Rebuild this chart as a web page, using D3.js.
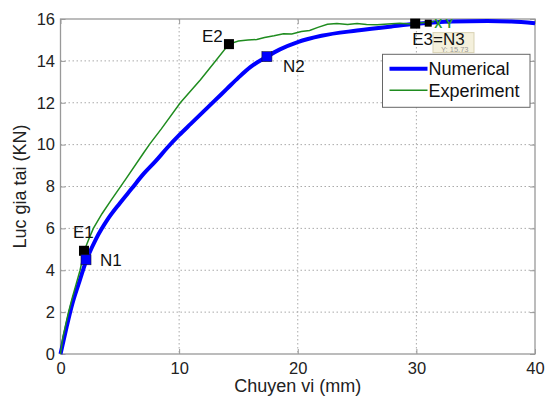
<!DOCTYPE html>
<html>
<head>
<meta charset="utf-8">
<script src="https://cdnjs.cloudflare.com/ajax/libs/d3/7.8.5/d3.min.js"></script>
<style>
	body { margin: 0; background: #fff; }
	svg { display: block; font-family: "Liberation Sans", Arial, sans-serif; }
	.grid line { stroke: #aaa; stroke-dasharray: 1.5,2.5; }
</style>
</head>
<body>
<svg id="chart" width="548" height="396"></svg>
<script>
// numerical curve (x: mm, y: kN)
var numX = [0, 0.5, 1.0, 1.5, 2.2, 3.0, 4.0, 5.0, 6.0, 7.0, 8.0, 9.0, 10.0, 11.0, 12.0, 13.0, 14.0, 15.0, 16.0, 17.4, 18.5, 20.0, 22.0, 25.0, 28.0, 30.0, 33.0, 36.0, 38.0, 40.0];
var numY = [0, 1.25, 2.4, 3.3, 4.5, 5.5, 6.45, 7.2, 7.9, 8.6, 9.2, 9.85, 10.45, 11.0, 11.55, 12.1, 12.65, 13.2, 13.7, 14.2, 14.55, 14.9, 15.2, 15.45, 15.65, 15.77, 15.88, 15.9, 15.88, 15.8];

// experiment curve
var expX = [0, 0.2, 0.4, 0.66, 1.0, 1.3, 1.65, 2.0, 2.4, 2.77, 3.5, 4.3, 5.5, 7.0, 7.55, 8.5, 10.1, 11.8, 13.0, 14.2, 15.0, 15.8, 16.55, 17.2, 18.0, 18.8, 19.5, 20.3, 21.0, 21.7, 22.5, 23.3, 24.2, 25.0, 25.8, 26.7, 27.6, 28.6, 29.5, 30.5, 31.5];
var expY = [0, 0.8, 1.3, 1.96, 2.7, 3.3, 4.0, 4.93, 5.5, 6.0, 6.7, 7.37, 8.35, 9.6, 10.05, 10.75, 12.0, 13.1, 13.95, 14.8, 14.95, 15.0, 15.02, 15.12, 15.2, 15.3, 15.28, 15.4, 15.45, 15.6, 15.75, 15.78, 15.74, 15.78, 15.74, 15.72, 15.76, 15.8, 15.76, 15.82, 15.88];

var eLabels = ["E1", "E2", "E3"];
var eX = [1.98, 14.2, 29.9];
var eY = [4.93, 14.8, 15.78];
var nLabels = ["N1", "N2", "N3"];
var nX = [2.15, 17.4, 29.9];
var nY = [4.5, 14.2, 15.78];

var xTicks = [0, 10, 20, 30, 40];
var yTicks = [0, 2, 4, 6, 8, 10, 12, 14, 16];

var margin = {top: 19, right: 13, bottom: 42, left: 60.5};
var svg = d3.select("#chart");
var width = 548 - margin.left - margin.right,
	height = 396 - margin.top - margin.bottom;

var g = svg.append("g").attr("transform", "translate(" + margin.left + "," + margin.top + ")");

var x = d3.scaleLinear().domain([0, 40]).range([0, width]);
var y = d3.scaleLinear().domain([0, 16]).range([height, 0]);

// grid
g.append("g").attr("class", "grid")
	.selectAll("line").data(xTicks.slice(1, -1)).enter().append("line")
	.attr("x1", x).attr("x2", x).attr("y1", 0).attr("y2", height);
g.append("g").attr("class", "grid")
	.selectAll("line").data(yTicks.slice(1, -1)).enter().append("line")
	.attr("x1", 0).attr("x2", width).attr("y1", y).attr("y2", y);

// frame
g.append("rect").attr("width", width).attr("height", height)
	.attr("fill", "none").attr("stroke", "#999").attr("stroke-width", 1.3);

g.append("g").attr("transform", "translate(0," + height + ")")
	.call(d3.axisBottom(x).tickValues(xTicks).tickSize(-5).tickPadding(8));
g.append("g")
	.call(d3.axisLeft(y).tickValues(yTicks).tickSize(-5).tickPadding(5.5));
g.append("g").attr("transform", "translate(" + width + ",0)")
	.call(d3.axisRight(y).tickValues(yTicks).tickSize(-5).tickFormat(""));
g.append("g")
	.call(d3.axisTop(x).tickValues(xTicks).tickSize(-5).tickFormat(""));

g.selectAll(".domain").remove();
g.selectAll(".tick line").attr("stroke", "#999");
g.selectAll(".tick text").attr("fill", "#222").style("font-size", "16.5px").style("font-family", "Liberation Sans, Arial, sans-serif");

var line = d3.line().x(function (d) { return x(d[0]); }).y(function (d) { return y(d[1]); });

var numData = numX.map(function (v, i) { return [v, numY[i]]; });
var expData = expX.map(function (v, i) { return [v, expY[i]]; });

g.append("path").datum(numData).attr("d", line.curve(d3.curveMonotoneX))
	.attr("fill", "none").attr("stroke", "#0000ff").attr("stroke-width", 4);
g.append("path").datum(expData).attr("d", line.curve(d3.curveLinear))
	.attr("fill", "none").attr("stroke", "#1f8c1f").attr("stroke-width", 1.5);

// markers
var sz = 10;
g.selectAll(".emark").data(eX).enter().append("rect")
	.attr("x", function (d) { return x(d) - sz / 2; })
	.attr("y", function (d, i) { return y(eY[i]) - sz / 2; })
	.attr("width", sz).attr("height", sz).attr("fill", "#000");
g.selectAll(".nmark").data(nX.slice(0, 2)).enter().append("rect")
	.attr("x", function (d) { return x(d) - sz / 2; })
	.attr("y", function (d, i) { return y(nY[i]) - sz / 2; })
	.attr("width", sz).attr("height", sz).attr("fill", "#0000ff").attr("stroke", "#113").attr("stroke-width", 0.6);
// extra datatip marker
g.append("rect").attr("x", x(31.0) - 3.5).attr("y", y(15.8) - 3.5)
	.attr("width", 7).attr("height", 7).attr("fill", "#000");

// datatip box
var tip = g.append("g").attr("transform", "translate(" + (x(31.4)) + "," + (y(15.78) + 9) + ")");
tip.append("rect").attr("width", 41).attr("height", 20).attr("fill", "#f4f0dc").attr("stroke", "#d8d2b4");
tip.append("text").attr("x", 8).attr("y", 19).style("font-size", "7.5px").attr("fill", "#999").text("Y: 15.73");
g.append("text").attr("x", x(31.0) + 6).attr("y", y(15.8) + 5).style("font-size", "12px")
	.attr("fill", "#2a9a2a").style("font-weight", "bold").text("X Y");

var lbl = g.append("g").style("font-size", "17px").attr("fill", "#111");
lbl.append("text").attr("x", x(eX[0]) - 11).attr("y", y(eY[0]) - 13).text(eLabels[0]);
lbl.append("text").attr("x", x(nX[0]) + 14).attr("y", y(nY[0]) + 6).text(nLabels[0]);
lbl.append("text").attr("x", x(eX[1]) - 27).attr("y", y(eY[1]) - 2).text(eLabels[1]);
lbl.append("text").attr("x", x(nX[1]) + 16).attr("y", y(nY[1]) + 15).text(nLabels[1]);
lbl.append("text").attr("x", x(eX[2]) - 3).attr("y", y(eY[2]) + 21.5).text(eLabels[2] + "=" + nLabels[2]);

// legend
var leg = g.append("g").attr("transform", "translate(322,35.3)");
leg.append("rect").attr("width", 147.5).attr("height", 53).attr("fill", "#fff").attr("stroke", "#666");
var series = [{name: "Numerical", color: "#0000ff", w: 4}, {name: "Experiment", color: "#1f8c1f", w: 1.5}];
series.forEach(function (s, i) {
	leg.append("line").attr("x1", 7).attr("x2", 45).attr("y1", 14.5 + i * 21.5).attr("y2", 14.5 + i * 21.5)
		.attr("stroke", s.color).attr("stroke-width", s.w);
	leg.append("text").attr("x", 46).attr("y", 21 + i * 21.5).style("font-size", "18px").attr("fill", "#111").text(s.name);
});

// axis labels
svg.append("text").attr("x", margin.left + width / 2).attr("y", 392).attr("text-anchor", "middle")
	.style("font-size", "18px").attr("fill", "#222").text("Chuyen vi (mm)");
svg.append("text").attr("transform", "translate(26," + (margin.top + height / 2) + ") rotate(-90)")
	.attr("text-anchor", "middle").style("font-size", "18px").attr("fill", "#222").text("Luc gia tai (KN)");
</script>
</body>
</html>
